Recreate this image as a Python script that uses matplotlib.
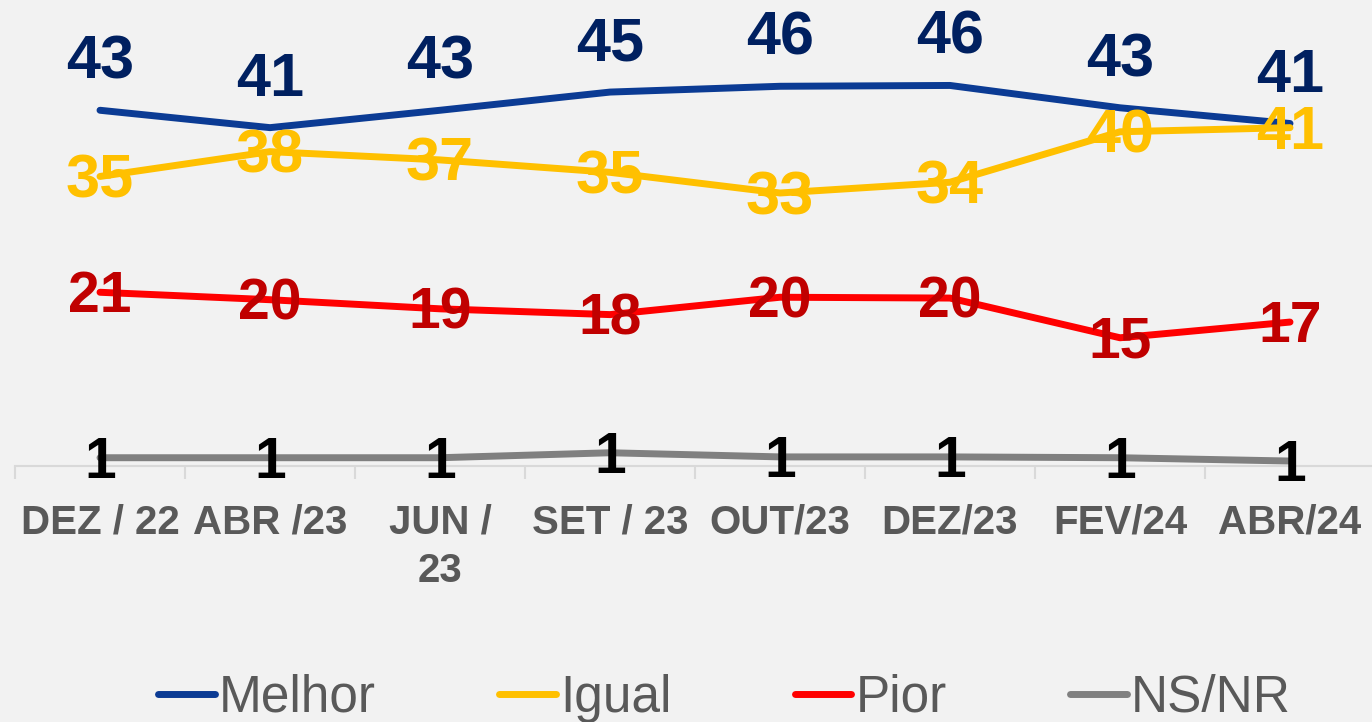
import matplotlib.pyplot as plt
from matplotlib.ticker import FixedLocator


plt.rcParams['font.family'] = ['Liberation Sans', 'DejaVu Sans']

periodos = ['DEZ / 22', 'ABR /23', 'JUN /\n23', 'SET / 23', 'OUT/23', 'DEZ/23', 'FEV/24', 'ABR/24']

# valores (posição das linhas) e rótulos exibidos
melhor = [43.0, 40.9, 43.0, 45.2, 45.9, 46.0, 43.3, 41.4]
igual = [35.0, 38.0, 37.0, 35.5, 33.0, 34.3, 40.4, 40.9]
pior = [21.0, 20.1, 19.0, 18.3, 20.4, 20.3, 15.5, 17.4]
nsnr = [1.0, 1.0, 1.0, 1.6, 1.1, 1.1, 1.0, 0.6]

rot_melhor = [43, 41, 43, 45, 46, 46, 43, 41]
rot_igual = [35, 38, 37, 35, 33, 34, 40, 41]
rot_pior = [21, 20, 19, 18, 20, 20, 15, 17]
rot_nsnr = [1, 1, 1, 1, 1, 1, 1, 1]

fundo = '#f2f2f2'
cinza_txt = '#595959'

fig = plt.figure(figsize=(13.72, 7.22), dpi=100, facecolor=fundo)
ax = fig.add_axes([15 / 1372, 256 / 722, 1360 / 1372, 455 / 722], facecolor=fundo)

x = list(range(len(periodos)))
series = [
    ('Melhor', melhor, rot_melhor, '#0b3b94', '#002060', 44, 34),
    ('Igual', igual, rot_igual, '#ffc000', '#ffc000', 44, -4),
    ('Pior', pior, rot_pior, '#ff0000', '#c00000', 41, -3.5),
    ('NS/NR', nsnr, rot_nsnr, '#808080', '#000000', 41, -3.5),
]

for nome, vals, rots, cor, cor_txt, tam, desloc in series:
    ax.plot(x, vals, color=cor, linewidth=5, solid_capstyle='round',
            solid_joinstyle='round', label=nome, clip_on=False)

for nome, vals, rots, cor, cor_txt, tam, desloc in series:
    for xi, v, r in zip(x, vals, rots):
        ax.annotate(str(r), (xi, v), xytext=(0, desloc), textcoords='offset points',
                    ha='center', va='center', fontsize=tam, fontweight='bold',
                    color=cor_txt, annotation_clip=False)

ax.set_xlim(-0.5, len(periodos) - 0.5)
ax.set_ylim(0, 55)
ax.set_yticks([])
ax.set_xticks(x)
ax.set_xticklabels(periodos, fontsize=29, fontweight='bold', color=cinza_txt,
                   linespacing=1.35)
ax.xaxis.set_minor_locator(FixedLocator([i - 0.5 for i in range(len(periodos) + 1)]))
ax.tick_params(axis='x', which='major', length=0, pad=27)
ax.tick_params(axis='x', which='minor', length=9.5, width=1.5, color='#d9d9d9')

for lado in ['top', 'right', 'left']:
    ax.spines[lado].set_visible(False)
ax.spines['bottom'].set_color('#d9d9d9')
ax.spines['bottom'].set_linewidth(1.5)

leg = fig.legend(loc='center', bbox_to_anchor=(0.528, 0.033), ncol=4, frameon=False,
                 fontsize=37, handlelength=1.1, handletextpad=0.08,
                 columnspacing=2.4, borderpad=0)
for t in leg.get_texts():
    t.set_color(cinza_txt)

plt.savefig('out.png', dpi=100, facecolor=fundo)
